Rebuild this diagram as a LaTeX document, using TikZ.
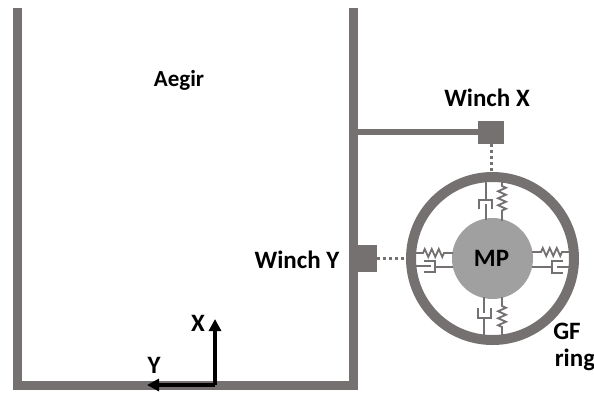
\documentclass[tikz,border=0pt]{standalone}
\usepackage{fontspec}
\setmainfont{Carlito}
\usepackage{tikz}
\usetikzlibrary{calc}
\usetikzlibrary{arrows.meta}
\usetikzlibrary{decorations.pathmorphing}
\definecolor{wallgray}{HTML}{767171}
\definecolor{massgray}{HTML}{A0A0A0}

\begin{document}
\begin{tikzpicture}[
  x=1pt,y=-1pt,
  line join=miter,
  wall/.style={draw=wallgray,line width=9pt},
  rod/.style={draw=wallgray,line width=1.8pt},
  spring/.style={rod,decorate,decoration={zigzag,segment length=7pt,amplitude=4pt,pre length=9pt,post length=9pt}},
  winch/.style={draw=none,fill=wallgray,inner sep=0pt,outer sep=0pt},
  tether/.style={draw=wallgray,line width=3pt,dash pattern=on 3pt off 3pt},
  axis/.style={draw=black,line width=4pt,-{Triangle[length=12pt,width=12pt]}},
  lab/.style={font=\fontsize{25}{25}\bfseries\selectfont,inner sep=0pt}
]
  \useasboundingbox (0,0) rectangle (594,392);

  % Tank
  \draw[wall] (17.5,8) -- (17.5,385.5) -- (353.5,385.5) -- (353.5,8);

  % Winches
  \node[winch,minimum width=26pt,minimum height=23pt] (winchx) at (491,132) {};
  \node[winch,minimum width=20pt,minimum height=27pt] (winchy) at (367,258.5) {};
  \draw[draw=wallgray,line width=6pt] (winchx.west) -- (winchx.west -| 353.5,0);

  % GF ring and MP
  \node[circle,draw=wallgray,line width=10pt,minimum size=163pt,inner sep=0pt,outer sep=5pt] (ring) at (492.5,258.5) {};
  \node[circle,fill=massgray,draw=none,minimum size=81pt,inner sep=0pt] (mp) at (492.5,258.5) {};
  \node[lab] (mplabel) at (491.5,258) {MP};

  % Tethers
  \draw[tether] (winchx.south) -- (ring.north -| winchx.south);
  \draw[tether] (winchy.east) -- (ring.west);

  % Top spring and damper
  \draw[spring] (502,177) -- (502,221);
  \draw[rod] (486,177) -- (486,200) (479,209) -- (479,200) -- (492,200) -- (492,209);
  \draw[rod] (486,220) -- (486,204);

  % Bottom spring and damper
  \draw[spring] (502,297) -- (502,338);
  \draw[rod] (484,338) -- (484,318) (478,308) -- (478,318) -- (491,318) -- (491,308);
  \draw[rod] (484,297) -- (484,313);

  % Left spring and damper
  \draw[spring] (414,253) -- (453,253);
  \draw[rod] (414,266) -- (431,266) (424,261) -- (435,261) -- (435,272) -- (424,272);
  \draw[rod] (435,267) -- (453,267);

  % Right spring and damper
  \draw[spring] (532,252) -- (572,252);
  \draw[rod] (532,267) -- (552,267) (563,261) -- (552,261) -- (552,273) -- (563,273);
  \draw[rod] (557,267) -- (572,267);

  % Axes
  \coordinate (origin) at (215,385);
  \coordinate (xtip) at (215,319);
  \coordinate (ytip) at (147,385);
  \draw[axis] (origin) -- (xtip);
  \draw[axis] (origin) -- (ytip);

  % Labels
  \node[lab,font=\fontsize{23}{23}\bfseries\selectfont] (aegir) at (179,80) {Aegir};
  \node[lab] (labelx) at (487,98) {Winch X};
  \node[lab] (labely) at (297,260) {Winch Y};
  \node[lab] (axisx) at (198,323) {X};
  \node[lab] (axisy) at (154,365) {Y};
  \node[lab] (gf) at (567,331) {GF};
  \node[lab] (gfring) at (575,360) {ring};
\end{tikzpicture}
\end{document}
